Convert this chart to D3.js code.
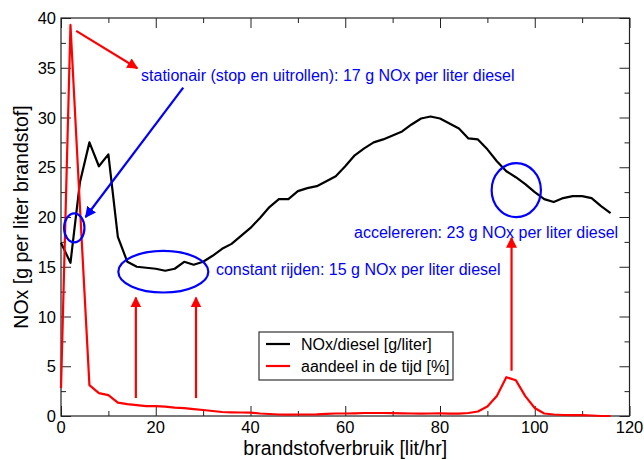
<!DOCTYPE html>
<html>
<head>
<meta charset="utf-8">
<script src="https://cdn.jsdelivr.net/npm/d3@7"></script>
<style>
  body { margin: 0; background: #fff; }
  text { font-family: "Liberation Sans", Arial, sans-serif; }
</style>
</head>
<body>
<svg id="chart" width="644" height="460"></svg>
<script>
var w = 644;
var h = 460;

// brandstofverbruik [lit/hr]
var fuel = [0, 2, 4, 6, 8, 10, 12, 14, 16, 18, 20, 22, 24, 26, 28, 30, 32, 34, 36, 38,
  40, 42, 44, 46, 48, 50, 52, 54, 56, 58, 60, 62, 64, 66, 68, 70, 72, 74, 76, 78,
  80, 82, 84, 86, 88, 90, 92, 94, 96, 98, 100, 102, 104, 106, 108, 110, 112, 114, 116];

// NOx/diesel [g/liter]
var noxPerLiter = [17.4, 15.4, 23.5, 27.5, 25.1, 26.3, 18.0, 15.5, 15.0, 14.9, 14.8, 14.6, 14.8, 15.5, 15.2, 15.5, 16.1, 16.8, 17.3, 18.1,
  18.9, 19.9, 21.0, 21.8, 21.8, 22.6, 22.9, 23.1, 23.6, 24.1, 25.1, 26.2, 26.9, 27.5, 27.8, 28.2, 28.6, 29.3, 29.9, 30.1,
  29.9, 29.4, 28.9, 27.9, 27.8, 26.8, 25.6, 24.6, 24.0, 23.3, 22.5, 21.8, 21.5, 21.9, 22.1, 22.1, 21.9, 21.1, 20.4];

// aandeel in de tijd [%]
var timeShare = [2.8, 39.3, 21.0, 3.1, 2.3, 2.1, 1.35, 1.2, 1.1, 1.0, 1.0, 0.95, 0.85, 0.8, 0.7, 0.6, 0.5, 0.4, 0.37, 0.35,
  0.34, 0.25, 0.2, 0.15, 0.14, 0.15, 0.15, 0.17, 0.22, 0.25, 0.25, 0.27, 0.3, 0.3, 0.3, 0.28, 0.27, 0.25, 0.24, 0.25,
  0.27, 0.24, 0.24, 0.3, 0.45, 0.95, 2.0, 3.9, 3.6, 2.0, 0.8, 0.25, 0.15, 0.1, 0.08, 0.08, 0.05, 0.0, 0.0];

var xTicks = [0, 20, 40, 60, 80, 100, 120];
var yTicks = [0, 5, 10, 15, 20, 25, 30, 35, 40];

var seriesNames = ["NOx/diesel [g/liter]", "aandeel in de tijd [%]"];
var seriesColors = ["#000000", "#ff0000"];

// annotations, in data units
var notes = [
  { text: "stationair (stop en uitrollen): 17 g NOx per liter diesel", x: 16.9, y: 33.7 },
  { text: "constant rijden: 15 g NOx per liter diesel", x: 32.7, y: 14.15 },
  { text: "accelereren: 23 g NOx per liter diesel", x: 61.85, y: 17.9 }
];
var rings = [
  { cx: 2.8, cy: 18.9, rx: 2.15, ry: 1.46 },
  { cx: 21.6, cy: 14.5, rx: 9.5, ry: 2.09 },
  { cx: 96.1, cy: 22.7, rx: 5.2, ry: 2.71 }
];
var arrows = [
  { x1: 3.2, y1: 38.7, x2: 16.1, y2: 34.95, color: "#ff0000" },
  { x1: 25.8, y1: 33.0, x2: 5.2, y2: 20.0, color: "#0000ff" },
  { x1: 15.8, y1: 1.8, x2: 15.8, y2: 11.9, color: "#ff0000" },
  { x1: 28.5, y1: 1.8, x2: 28.5, y2: 11.9, color: "#ff0000" },
  { x1: 95.1, y1: 4.55, x2: 95.1, y2: 17.9, color: "#ff0000" }
];

var plotL = 61, plotR = 629.5, plotT = 18, plotB = 416;

var svg = d3.select("#chart");

var xScale = d3.scaleLinear().domain([0, 120]).range([plotL, plotR]);
var yScale = d3.scaleLinear().domain([0, 40]).range([plotB, plotT]);
var rxScale = d3.scaleLinear().domain([0, 120]).range([0, plotR - plotL]);
var ryScale = d3.scaleLinear().domain([0, 40]).range([0, plotB - plotT]);

var minorX = d3.range(0, 121, 10);
var minorY = d3.range(0, 40.1, 2.5);

// ticks inward on all four sides
function tickLen(v, step) { return (Math.abs(v / step - Math.round(v / step)) < 1e-6) ? 10 : 5; }

svg.append("g")
  .attr("transform", "translate(0," + plotB + ")")
  .call(d3.axisBottom(xScale).tickValues(minorX).tickSizeInner(0).tickSizeOuter(0).tickFormat(""))
  .call(g => g.select(".domain").remove())
  .call(g => g.selectAll(".tick line").attr("y2", d => -tickLen(d, 20)).attr("stroke", "#222"));

svg.append("g")
  .attr("transform", "translate(0," + plotT + ")")
  .call(d3.axisTop(xScale).tickValues(minorX).tickSizeInner(0).tickSizeOuter(0).tickFormat(""))
  .call(g => g.select(".domain").remove())
  .call(g => g.selectAll(".tick line").attr("y2", d => tickLen(d, 20)).attr("stroke", "#222"));

svg.append("g")
  .attr("transform", "translate(" + plotL + ",0)")
  .call(d3.axisLeft(yScale).tickValues(minorY).tickSizeInner(0).tickSizeOuter(0).tickFormat(""))
  .call(g => g.select(".domain").remove())
  .call(g => g.selectAll(".tick line").attr("x2", d => tickLen(d, 5)).attr("stroke", "#222"));

svg.append("g")
  .attr("transform", "translate(" + plotR + ",0)")
  .call(d3.axisRight(yScale).tickValues(minorY).tickSizeInner(0).tickSizeOuter(0).tickFormat(""))
  .call(g => g.select(".domain").remove())
  .call(g => g.selectAll(".tick line").attr("x2", d => -tickLen(d, 5)).attr("stroke", "#222"));

// frame
svg.append("rect")
  .attr("x", plotL)
  .attr("y", plotT)
  .attr("width", plotR - plotL)
  .attr("height", plotB - plotT)
  .attr("fill", "none")
  .attr("stroke", "#222")
  .attr("stroke-width", 1.2);

// tick labels
svg.selectAll("text.xlab")
  .data(xTicks)
  .enter()
  .append("text")
  .attr("class", "xlab")
  .attr("x", d => xScale(d))
  .attr("y", plotB + 17)
  .attr("text-anchor", "middle")
  .attr("font-size", 16.5)
  .text(d => d);

svg.selectAll("text.ylab")
  .data(yTicks)
  .enter()
  .append("text")
  .attr("class", "ylab")
  .attr("x", plotL - 5)
  .attr("y", d => yScale(d) + 6)
  .attr("text-anchor", "end")
  .attr("font-size", 16.5)
  .text(d => d);

// axis titles
svg.append("text")
  .attr("x", (plotL + plotR) / 2)
  .attr("y", 455)
  .attr("text-anchor", "middle")
  .attr("font-size", 19.5)
  .text("brandstofverbruik [lit/hr]");

svg.append("text")
  .attr("transform", "translate(28," + ((plotT + plotB) / 2) + ") rotate(-90)")
  .attr("text-anchor", "middle")
  .attr("font-size", 19.5)
  .text("NOx [g per liter brandstof]");

// lines
var series = [noxPerLiter, timeShare];
var line = d3.line()
  .x((d, i) => xScale(fuel[i]))
  .y(d => yScale(d));

svg.selectAll("path.series")
  .data(series)
  .enter()
  .append("path")
  .attr("class", "series")
  .attr("d", d => line(d))
  .attr("fill", "none")
  .attr("stroke", (d, i) => seriesColors[i])
  .attr("stroke-width", 2.2)
  .attr("stroke-linejoin", "round");

// arrow heads
var defs = svg.append("defs");
["#ff0000", "#0000ff"].forEach(function(c) {
  defs.append("marker")
    .attr("id", "head" + c.slice(1))
    .attr("viewBox", "0 0 10 10")
    .attr("refX", 9)
    .attr("refY", 5)
    .attr("markerWidth", 5)
    .attr("markerHeight", 5)
    .attr("orient", "auto")
    .attr("markerUnits", "strokeWidth")
    .append("path")
    .attr("d", "M0,0 L10,5 L0,10 Z")
    .attr("fill", c);
});

svg.selectAll("line.arrow")
  .data(arrows)
  .enter()
  .append("line")
  .attr("class", "arrow")
  .attr("x1", d => xScale(d.x1))
  .attr("y1", d => yScale(d.y1))
  .attr("x2", d => xScale(d.x2))
  .attr("y2", d => yScale(d.y2))
  .attr("stroke", d => d.color)
  .attr("stroke-width", 2.2)
  .attr("marker-end", d => "url(#head" + d.color.slice(1) + ")");

svg.selectAll("ellipse")
  .data(rings)
  .enter()
  .append("ellipse")
  .attr("cx", d => xScale(d.cx))
  .attr("cy", d => yScale(d.cy))
  .attr("rx", d => rxScale(d.rx))
  .attr("ry", d => ryScale(d.ry))
  .attr("fill", "none")
  .attr("stroke", "#0000ff")
  .attr("stroke-width", 2.2);

svg.selectAll("text.note")
  .data(notes)
  .enter()
  .append("text")
  .attr("class", "note")
  .attr("x", d => xScale(d.x))
  .attr("y", d => yScale(d.y))
  .attr("font-size", 16)
  .attr("fill", "#0000ff")
  .text(d => d.text);

// legend
var legend = svg.append("g").attr("transform", "translate(259,332)");
legend.append("rect")
  .attr("width", 194)
  .attr("height", 48)
  .attr("fill", "#fff")
  .attr("stroke", "#333")
  .attr("stroke-width", 1.2);

seriesNames.forEach(function(name, i) {
  legend.append("line")
    .attr("x1", 7)
    .attr("x2", 31)
    .attr("y1", 12 + i * 22)
    .attr("y2", 12 + i * 22)
    .attr("stroke", seriesColors[i])
    .attr("stroke-width", 2.2);
  legend.append("text")
    .attr("x", 42)
    .attr("y", 18 + i * 22)
    .attr("font-size", 16)
    .attr("fill", "#000")
    .text(name);
});
</script>
</body>
</html>
